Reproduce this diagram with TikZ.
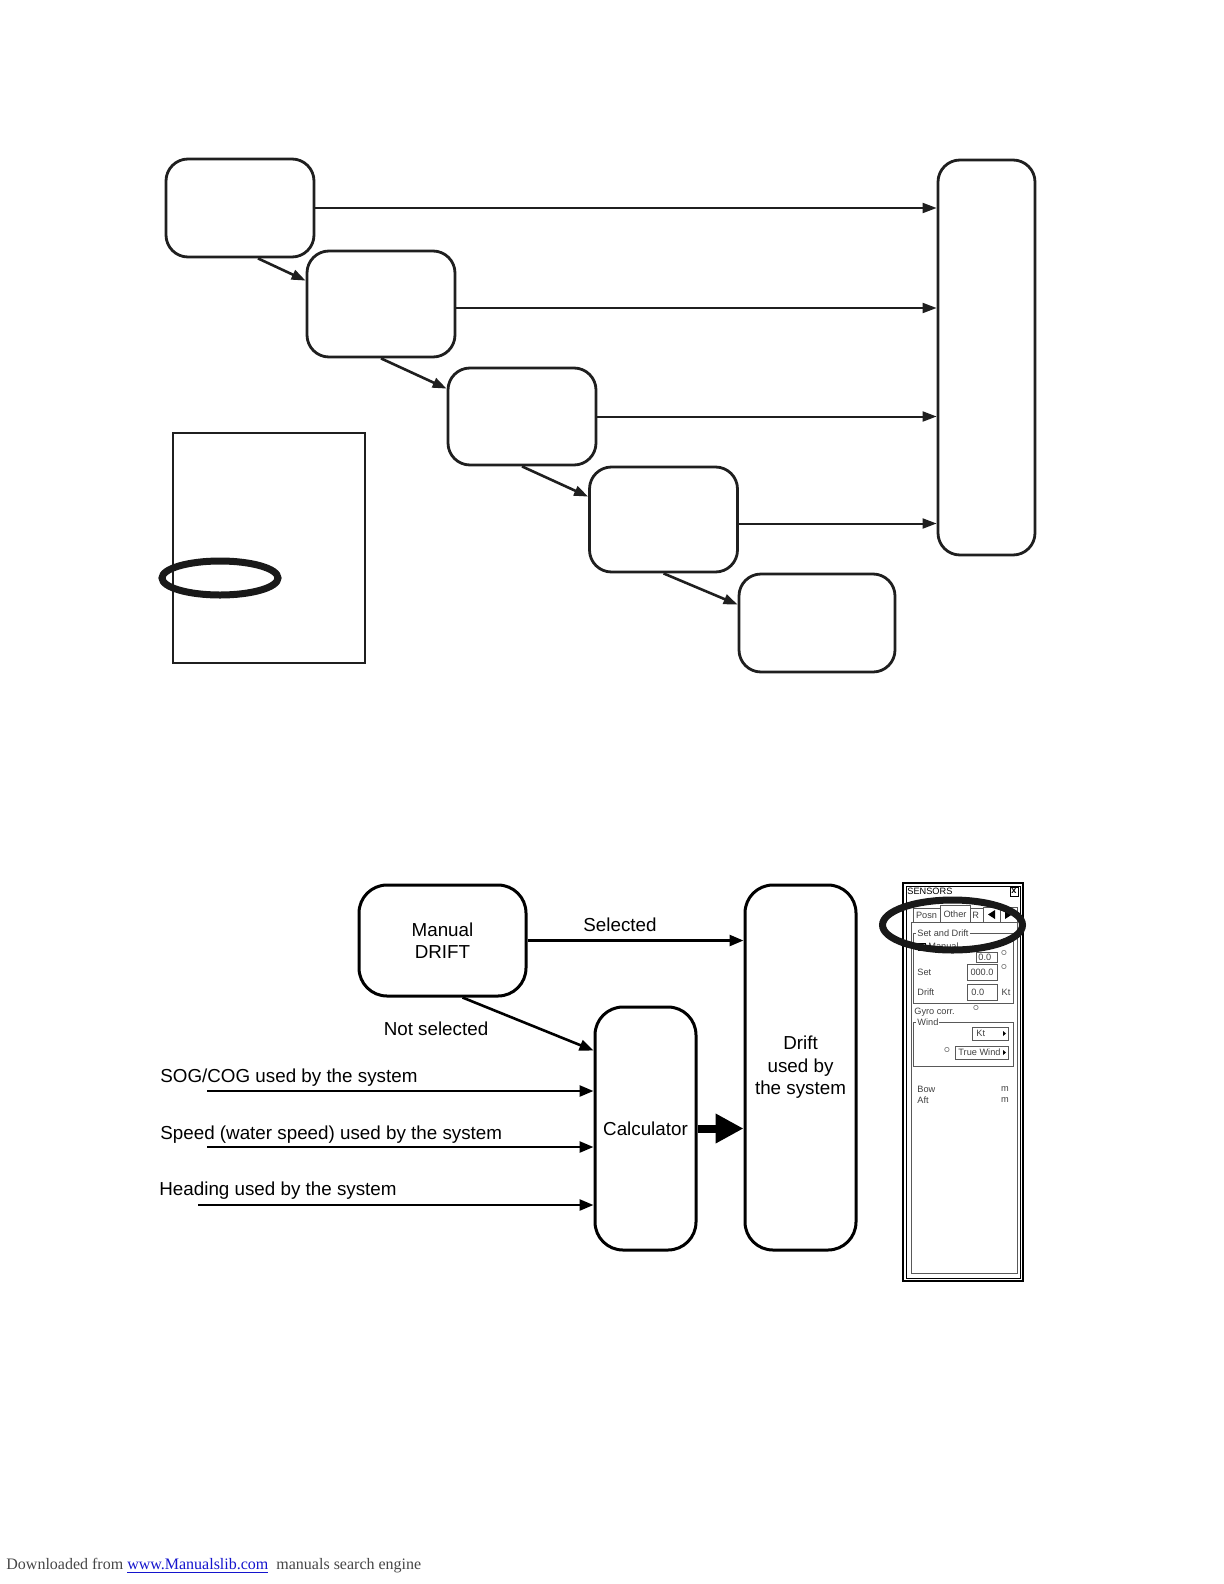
\documentclass[tikz,border=0pt]{standalone}
\usepackage{fontspec}
\setmainfont{Liberation Sans}
\newfontfamily\footfont{Liberation Serif}
\usetikzlibrary{arrows.meta,calc}
\definecolor{linkblue}{RGB}{20,20,205}
\definecolor{footgray}{RGB}{70,70,70}

\begin{document}
\begin{tikzpicture}[x=0.5pt,y=-0.5pt,
    stage/.style={draw=black!88,line width=1.4pt,rounded corners=11pt,inner sep=0pt,
      minimum width=74pt},
    unit/.style={draw=black,line width=1.5pt,rounded corners=14pt,align=center,inner sep=0pt,
      font=\fontsize{9.4}{11.3}\selectfont},
    feed/.style={-{Triangle[length=7pt,width=5pt]},draw=black!88,line width=1pt},
    slant/.style={-{Triangle[length=7pt,width=5pt]},draw=black!88,line width=1.3pt},
    flow/.style={-{Triangle[length=7pt,width=5.5pt]},draw=black,line width=1.3pt},
    fat/.style={-{Triangle[length=14pt,width=14pt]},draw=black,line width=4pt},
    ring/.style={draw=black!90,line width=3.5pt},
    tag/.style={font=\fontsize{9.4}{11.3}\selectfont,inner sep=0pt},
    tiny/.style={font=\fontsize{4.6}{5}\selectfont,inner sep=0pt,text=black!75},
    thinline/.style={draw=black!65,line width=0.4pt}
  ]
  \useasboundingbox (0,0) rectangle (1224,1584);

  % upper chart
  \node[stage,minimum height=49pt] (b1) at (240,208) {};
  \node[stage,minimum height=53pt] (b2) at (381,304) {};
  \node[stage,minimum height=48.5pt] (b3) at (522,416.5) {};
  \node[stage,minimum height=52.5pt] (b4) at (663.5,519.5) {};
  \node[stage,minimum width=78pt,minimum height=49pt] (b5) at (817,623) {};
  \node[stage,minimum width=48.5pt,minimum height=197.5pt] (sink) at (986.5,357.5) {};
  \draw[feed] (b1.east) -- (b1.east -| sink.west);
  \draw[feed] ([yshift=-2pt]b2.east) -- ([yshift=-2pt]b2.east -| sink.west);
  \draw[feed] (b3.east) -- (b3.east -| sink.west);
  \draw[feed] ([yshift=-2pt]b4.east) -- ([yshift=-2pt]b4.east -| sink.west);
  \draw[slant] ($(b1.south)+(18,0)$) -- ($(b2.north west)+(0,31)$);
  \draw[slant] (b2.south) -- ($(b3.north west)+(0,22)$);
  \draw[slant] (b3.south) -- ($(b4.north west)+(0,31)$);
  \draw[slant] (b4.south) -- ($(b5.north west)+(0,32)$);
  \draw[draw=black!88,line width=1pt] (173,433) rectangle (365,663);
  \draw[ring] (220,578) ellipse [x radius=29pt,y radius=8.5pt];

  % lower chart
  \node[unit,minimum width=83.5pt,minimum height=55.5pt] (manual) at (442.5,940.5) {Manual\\DRIFT};
  \node[unit,minimum width=50.5pt,minimum height=121.5pt] (calc) at (645.5,1128.5) {Calculator};
  \node[unit,minimum width=55.5pt,minimum height=182.5pt] (drift) at (800.5,1067.5) {Drift\\used by\\the system};
  \coordinate (sog) at (207,1091);
  \coordinate (stw) at (207,1147);
  \coordinate (hdg) at (198,1205);
  \draw[flow] (manual.east) -- (manual.east -| drift.west);
  \node[tag] (sel) at (620,925) {Selected};
  \draw[flow] ($(manual.south)+(20,0)$) -- ($(calc.north west)+(0,45)$);
  \node[tag] (nsel) at (436,1029) {Not selected};
  \draw[flow] (sog) -- (sog -| calc.west);
  \draw[flow] (stw) -- (stw -| calc.west);
  \draw[flow] (hdg) -- (hdg -| calc.west);
  \node[tag,anchor=west] (sogtxt) at (160,1078) {SOG/COG used by the system};
  \node[tag,anchor=west] (stwtxt) at (160,1135) {Speed (water speed) used by the system};
  \node[tag,anchor=west] (hdgtxt) at (159,1191) {Heading used by the system};
  \draw[fat] (calc) -- (calc -| drift.west);

  % sensors panel
  \draw[line width=0.9pt] (903,883) rectangle (1023,1281);
  \draw[line width=0.5pt] (906,886) rectangle (1020,1278);
  \node[tiny,text=black,anchor=west] (ttl) at (907,891) {SENSORS};
  \draw[line width=0.4pt] (1010,887) rectangle (1018,896);
  \node[tiny,text=black,font=\fontsize{4.6}{5}\bfseries] (cls) at (1014,891.5) {x};
  \draw[thinline] (911,922) rectangle (1017,1273);
  \draw[thinline,fill=white] (913,922) |- (940,908) -- (940,922);
  \node[tiny] (posn) at (926.5,915) {Posn};
  \draw[thinline,fill=white] (940,922) |- (970,905) -- (970,922);
  \node[tiny] (other) at (955,914) {Other};
  \draw[thinline] (970,908) rectangle (983,922);
  \node[tiny,anchor=west] (rtab) at (972,915) {R};
  \draw[thinline] (983,907) rectangle (1000,922);
  \fill (988,914.5) -- (995,910) -- (995,919) -- cycle;
  \draw[thinline] (1000,907) rectangle (1017,922);
  \fill (1012,914.5) -- (1005,910) -- (1005,919) -- cycle;
  \draw[thinline] (913,933) rectangle (1013,1003);
  \node[tiny,fill=white,inner xsep=0.5pt,anchor=west] (grp) at (916,933) {Set and Drift};
  \draw[line width=0.4pt] (918,943) rectangle (925,950);
  \node[tiny,anchor=west] (man) at (928,946.5) {Manual};
  \draw[thinline] (976,952) rectangle (997,962);
  \node[tiny,anchor=west] (vgl) at (978,957) {0.0};
  \node[tiny] (dg0) at (1004,953) {$\circ$};
  \node[tiny,anchor=west] (set) at (917,972) {Set};
  \draw[thinline] (967,964) rectangle (997,980);
  \node[tiny] (setv) at (982,972) {000.0};
  \node[tiny] (dg1) at (1004,967) {$\circ$};
  \node[tiny,anchor=west] (drf) at (917,992) {Drift};
  \draw[thinline] (967,984) rectangle (997,1000);
  \node[tiny,anchor=west] (drfv) at (971,992) {0.0};
  \node[tiny] (kt1) at (1006,992) {Kt};
  \node[tiny,anchor=west] (gyro) at (914,1012) {Gyro corr.};
  \node[tiny] (dg2) at (976,1008) {$\circ$};
  \draw[thinline] (913,1022) rectangle (1013,1066);
  \node[tiny,fill=white,inner xsep=0.5pt,anchor=west] (wnd) at (916,1022) {Wind};
  \draw[thinline] (972,1027) rectangle (1008,1040);
  \node[tiny,anchor=west] (kt2) at (976,1033.5) {Kt};
  \fill (1006,1033.5) -- (1003,1031) -- (1003,1036) -- cycle;
  \node[tiny] (dg3) at (947,1050) {$\circ$};
  \draw[thinline] (955,1046) rectangle (1008,1059);
  \node[tiny,anchor=west] (tw) at (958,1052.5) {True Wind};
  \fill (1006,1052.5) -- (1003,1050) -- (1003,1055) -- cycle;
  \node[tiny,anchor=west] (bow) at (917,1089) {Bow};
  \node[tiny] (m1) at (1005,1089) {m};
  \node[tiny,anchor=west] (aft) at (917,1100) {Aft};
  \node[tiny] (m2) at (1005,1100) {m};
  \draw[ring] (952.5,925) ellipse [x radius=35pt,y radius=12.5pt];

  % footer
  \node[anchor=west,inner sep=0pt,text=footgray,font=\footfont\fontsize{8}{10}\selectfont] (foot) at (6,1566)
    {Downloaded from \textcolor{linkblue}{\underline{www.Manualslib.com}}\ \ manuals search engine};
\end{tikzpicture}
\end{document}
